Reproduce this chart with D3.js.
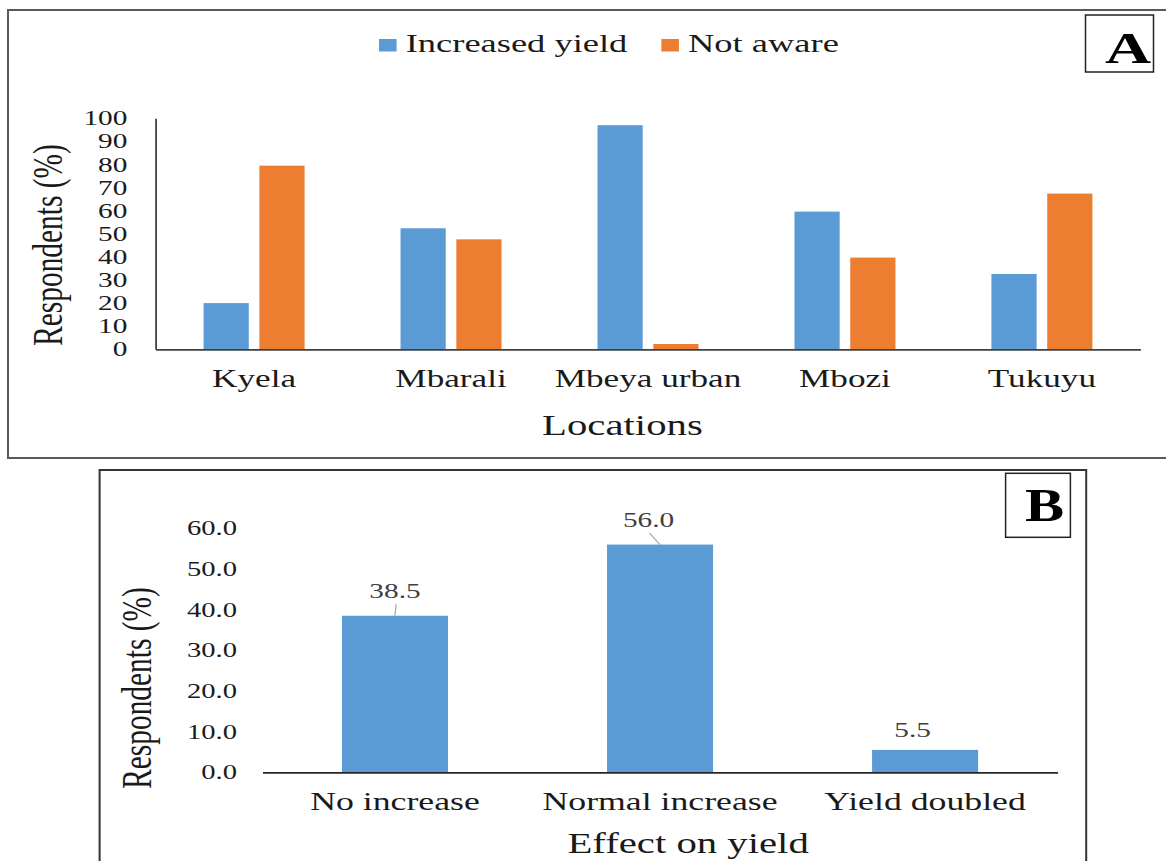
<!DOCTYPE html>
<html>
<head>
<meta charset="utf-8">
<script src="https://cdn.jsdelivr.net/npm/d3@7"></script>
<style>
  html, body { margin: 0; padding: 0; background: #ffffff; }
  svg { display: block; font-family: "Liberation Serif", "Times New Roman", serif; }
</style>
</head>
<body>
<script>
// ---------- DATA ----------
const categoriesA = ["Kyela", "Mbarali", "Mbeya urban", "Mbozi", "Tukuyu"];
const seriesNames = ["Increased yield", "Not aware"];
const increasedYield = [20, 52.4, 97, 59.6, 32.6];
const notAware = [79.5, 47.6, 2.3, 39.7, 67.4];
const yTicksA = [0, 10, 20, 30, 40, 50, 60, 70, 80, 90, 100];

const categoriesB = ["No increase", "Normal increase", "Yield doubled"];
const effectValues = [38.5, 56.0, 5.5];
const yTicksB = [0, 10, 20, 30, 40, 50, 60];

// ---------- STYLE ----------
const SX = 1.43;               // horizontal stretch of the original picture's text
const colors = { "Increased yield": "#5B9BD5", "Not aware": "#ED7D31" };
const labelDxB = [0, -11.5, -12.5]; // manual data label shifts (layout only)

const W = 1166, H = 861;
const svg = d3.select("body").append("svg").attr("width", W).attr("height", H);

function stext(g, x, y, str, o) {
  o = o || {};
  return g.append("text")
    .attr("transform", `translate(${x},${y}) scale(${o.sx || SX},1)`)
    .attr("text-anchor", o.anchor || "middle")
    .attr("font-size", o.size || 20)
    .attr("font-weight", o.weight || "normal")
    .attr("fill", o.fill || "#1a1a1a")
    .text(str);
}

// =============== PANEL A ===============
const gA = svg.append("g");
gA.append("rect").attr("x", 8).attr("y", 10).attr("width", 1170).attr("height", 448)
  .attr("fill", "none").attr("stroke", "#595959").attr("stroke-width", 2);

// label box A
gA.append("rect").attr("x", 1085.5).attr("y", 15).attr("width", 68).attr("height", 57)
  .attr("fill", "#fff").attr("stroke", "#222").attr("stroke-width", 1.5);
stext(gA, 1128, 62.5, "A", { size: 45, weight: "bold", fill: "#000", sx: 1.42 });

const xA0 = d3.scaleBand().domain(categoriesA).range([155.6, 1140.4])
  .paddingInner(0.4).paddingOuter(0.2);
const groupW = 101;
const xA1 = d3.scaleBand().domain(seriesNames).range([0, groupW]).paddingInner(0.19);
const yA = d3.scaleLinear().domain([0, 100]).range([349.3, 118.3]);

const rowsA = categoriesA.map((c, i) => ({
  cat: c,
  vals: [
    { s: seriesNames[0], v: increasedYield[i] },
    { s: seriesNames[1], v: notAware[i] }
  ]
}));

gA.selectAll("g.grp").data(rowsA).join("g").attr("class", "grp")
  .attr("transform", d => `translate(${xA0(d.cat) + (xA0.bandwidth() - groupW) / 2},0)`)
  .selectAll("rect").data(d => d.vals).join("rect")
  .attr("x", d => xA1(d.s))
  .attr("width", xA1.bandwidth())
  .attr("y", d => yA(d.v))
  .attr("height", d => yA(0) - yA(d.v))
  .attr("fill", d => colors[d.s]);

// y axis A
const axYA = gA.append("g").attr("transform", `translate(${155.6},0)`)
  .call(d3.axisLeft(yA).tickValues(yTicksA).tickSize(0).tickSizeOuter(0).tickFormat(d3.format("d")));
axYA.select(".domain").attr("stroke", "#404040").attr("stroke-width", 1.8);
axYA.selectAll("text").attr("font-family", null).attr("font-size", 20.5).attr("fill", "#1a1a1a")
  .attr("x", -28.2 / SX).attr("transform", `scale(${SX},1)`);
axYA.attr("font-family", null).attr("font-size", null);

// x axis A
const axXA = gA.append("g").attr("transform", `translate(0,${yA(0)})`)
  .call(d3.axisBottom(xA0).tickSize(0).tickSizeOuter(0));
axXA.select(".domain").attr("stroke", "#404040").attr("stroke-width", 1.8);
axXA.selectAll("text").attr("font-size", 24.6).attr("fill", "#1a1a1a")
  .attr("y", 38).attr("dy", 0).attr("transform", `scale(${SX},1)`);
axXA.attr("font-family", null).attr("font-size", null);

// axis titles A
stext(gA, 622.4, 435, "Locations", { size: 28.5 });
gA.append("text")
  .attr("transform", `translate(62,245) rotate(-90) scale(1,1.42)`)
  .attr("text-anchor", "middle").attr("font-size", 29.4).attr("fill", "#1a1a1a")
  .text("Respondents (%)");

// legend A
const leg = gA.append("g");
let lx = 379;
seriesNames.forEach((s, i) => {
  leg.append("rect").attr("x", lx).attr("y", 39).attr("width", 17.6).attr("height", 12.5)
    .attr("fill", colors[s]);
  const t = stext(leg, lx + 26.7, 52.3, s, { size: 25.5, anchor: "start" });
  const w = t.node().getComputedTextLength() * SX;
  lx = lx + 26.7 + w + 34;
});

// =============== PANEL B ===============
const gB = svg.append("g");
gB.append("rect").attr("x", 99.6).attr("y", 470).attr("width", 986.6).attr("height", 430)
  .attr("fill", "none").attr("stroke", "#333", ).attr("stroke-width", 2);

gB.append("rect").attr("x", 1005.6).attr("y", 473.3).attr("width", 64.8).attr("height", 64)
  .attr("fill", "#fff").attr("stroke", "#222").attr("stroke-width", 1.5);
stext(gB, 1044.5, 521, "B", { size: 47, weight: "bold", fill: "#000", sx: 1.25 });

const xB = d3.scaleBand().domain(categoriesB).range([262.5, 1057.6])
  .paddingInner(0.6).paddingOuter(0.3);
const yB = d3.scaleLinear().domain([0, 60]).range([772.3, 528.3]);

const rowsB = categoriesB.map((c, i) => ({ cat: c, v: effectValues[i], i }));

gB.selectAll("rect.bar").data(rowsB).join("rect").attr("class", "bar")
  .attr("x", d => xB(d.cat))
  .attr("width", xB.bandwidth())
  .attr("y", d => yB(d.v))
  .attr("height", d => yB(0) - yB(d.v))
  .attr("fill", "#5B9BD5");

// y axis B (labels only)
const axYB = gB.append("g").attr("transform", `translate(262.5,0)`)
  .call(d3.axisLeft(yB).tickValues(yTicksB).tickSize(0).tickSizeOuter(0).tickFormat(d3.format(".1f")));
axYB.select(".domain").remove();
axYB.selectAll("text").attr("font-size", 20).attr("fill", "#1a1a1a")
  .attr("x", -25.5 / SX).attr("transform", `scale(${SX},1)`);
axYB.attr("font-family", null).attr("font-size", null);

// x axis B
const axXB = gB.append("g").attr("transform", `translate(0,${yB(0)})`)
  .call(d3.axisBottom(xB).tickSize(0).tickSizeOuter(0));
axXB.select(".domain").attr("stroke", "#262626").attr("stroke-width", 1.8);
axXB.selectAll("text").attr("font-size", 25).attr("fill", "#1a1a1a")
  .attr("y", 37.7).attr("dy", 0).attr("transform", `scale(${SX},1)`);
axXB.attr("font-family", null).attr("font-size", null);

// data labels B
rowsB.forEach(d => {
  const cx = xB(d.cat) + xB.bandwidth() / 2;
  const top = yB(d.v);
  const lxp = cx + labelDxB[d.i];
  const base = top - 18 + (d.i === 2 ? 5 : 0);
  stext(gB, lxp, base, d3.format(".1f")(d.v), { size: 20.5, fill: "#404040" });
  if (top - base > 15) {
    gB.append("line").attr("x1", lxp + 1).attr("y1", base + 6.5).attr("x2", cx).attr("y2", top)
      .attr("stroke", "#a6a6a6").attr("stroke-width", 1.2);
  }
});

// axis titles B
stext(gB, 688.1, 852.5, "Effect on yield", { size: 28.5 });
gB.append("text")
  .attr("transform", `translate(151,688) rotate(-90) scale(1,1.42)`)
  .attr("text-anchor", "middle").attr("font-size", 29.4).attr("fill", "#1a1a1a")
  .text("Respondents (%)");
</script>
</body>
</html>
